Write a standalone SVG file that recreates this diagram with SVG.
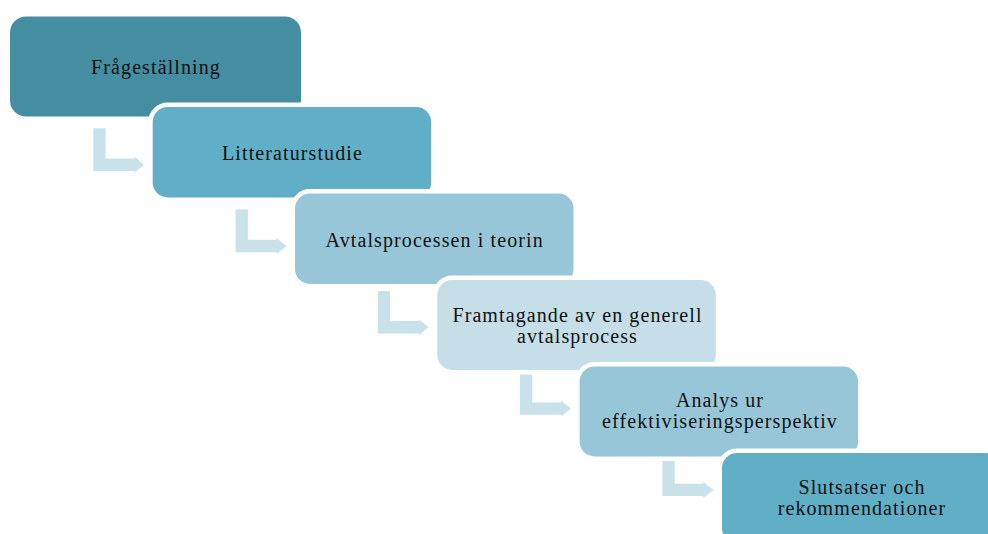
<svg xmlns="http://www.w3.org/2000/svg" width="988" height="534" viewBox="0 0 988 534">
  <defs>
    <style>
      .box { stroke: #ffffff; stroke-width: 9; paint-order: stroke; }
      .b1 { fill: #458EA2; }
      .b2 { fill: #60AFC7; }
      .b3 { fill: #97C6D8; }
      .b4 { fill: #C5DEE8; }
      .arrow { fill: #C9E2EA; }
      .lbl { font-family: "Liberation Serif", "Times New Roman", serif; font-size: 20px; letter-spacing: 1.1px; fill: #111111; text-anchor: middle; }
    </style>
  </defs>
  <rect width="988" height="534" fill="#ffffff"/>
  <g id="connectors">
    <path class="arrow" d="M93.3,128.3 h12.3 v30.2 h28.7 v-1.8 l10,8 l-10,8 v-1.8 h-41 z"/>
    <path class="arrow" d="M235.6,209.6 h12.3 v30.2 h28.7 v-1.8 l10,8 l-10,8 v-1.8 h-41 z"/>
    <path class="arrow" d="M377.8,290.9 h12.3 v30.2 h28.7 v-1.8 l10,8 l-10,8 v-1.8 h-41 z"/>
    <path class="arrow" d="M520,372.2 h12.3 v30.2 h28.7 v-1.8 l10,8 l-10,8 v-1.8 h-41 z"/>
    <path class="arrow" d="M662.3,453.5 h12.3 v30.2 h28.7 v-1.8 l10,8 l-10,8 v-1.8 h-41 z"/>
  </g>
  <g id="node1">
    <rect class="box b1" x="10" y="16.5" width="291" height="100" rx="16"/>
    <text class="lbl" x="156" y="74">Frågeställning</text>
  </g>
  <g id="node2">
    <rect class="box b2" x="152.7" y="107" width="278.5" height="90.5" rx="15"/>
    <text class="lbl" x="292.5" y="160">Litteraturstudie</text>
  </g>
  <g id="node3">
    <rect class="box b3" x="295" y="193.5" width="278.5" height="90.5" rx="15"/>
    <text class="lbl" x="434.7" y="246.5">Avtalsprocessen i teorin</text>
  </g>
  <g id="node4">
    <rect class="box b4" x="437.3" y="280" width="278.5" height="90" rx="15"/>
    <text class="lbl" x="577.5" y="321.5">Framtagande av en generell</text>
    <text class="lbl" x="577.5" y="342.5">avtalsprocess</text>
  </g>
  <g id="node5">
    <rect class="box b3" x="579.6" y="366.5" width="278.5" height="90" rx="15"/>
    <text class="lbl" x="720" y="407">Analys ur</text>
    <text class="lbl" x="720" y="428.3">effektiviseringsperspektiv</text>
  </g>
  <g id="node6">
    <rect class="box b2" x="722" y="453" width="278.5" height="90.5" rx="15"/>
    <text class="lbl" x="862" y="493.5">Slutsatser och</text>
    <text class="lbl" x="862" y="514.5">rekommendationer</text>
  </g>
</svg>
